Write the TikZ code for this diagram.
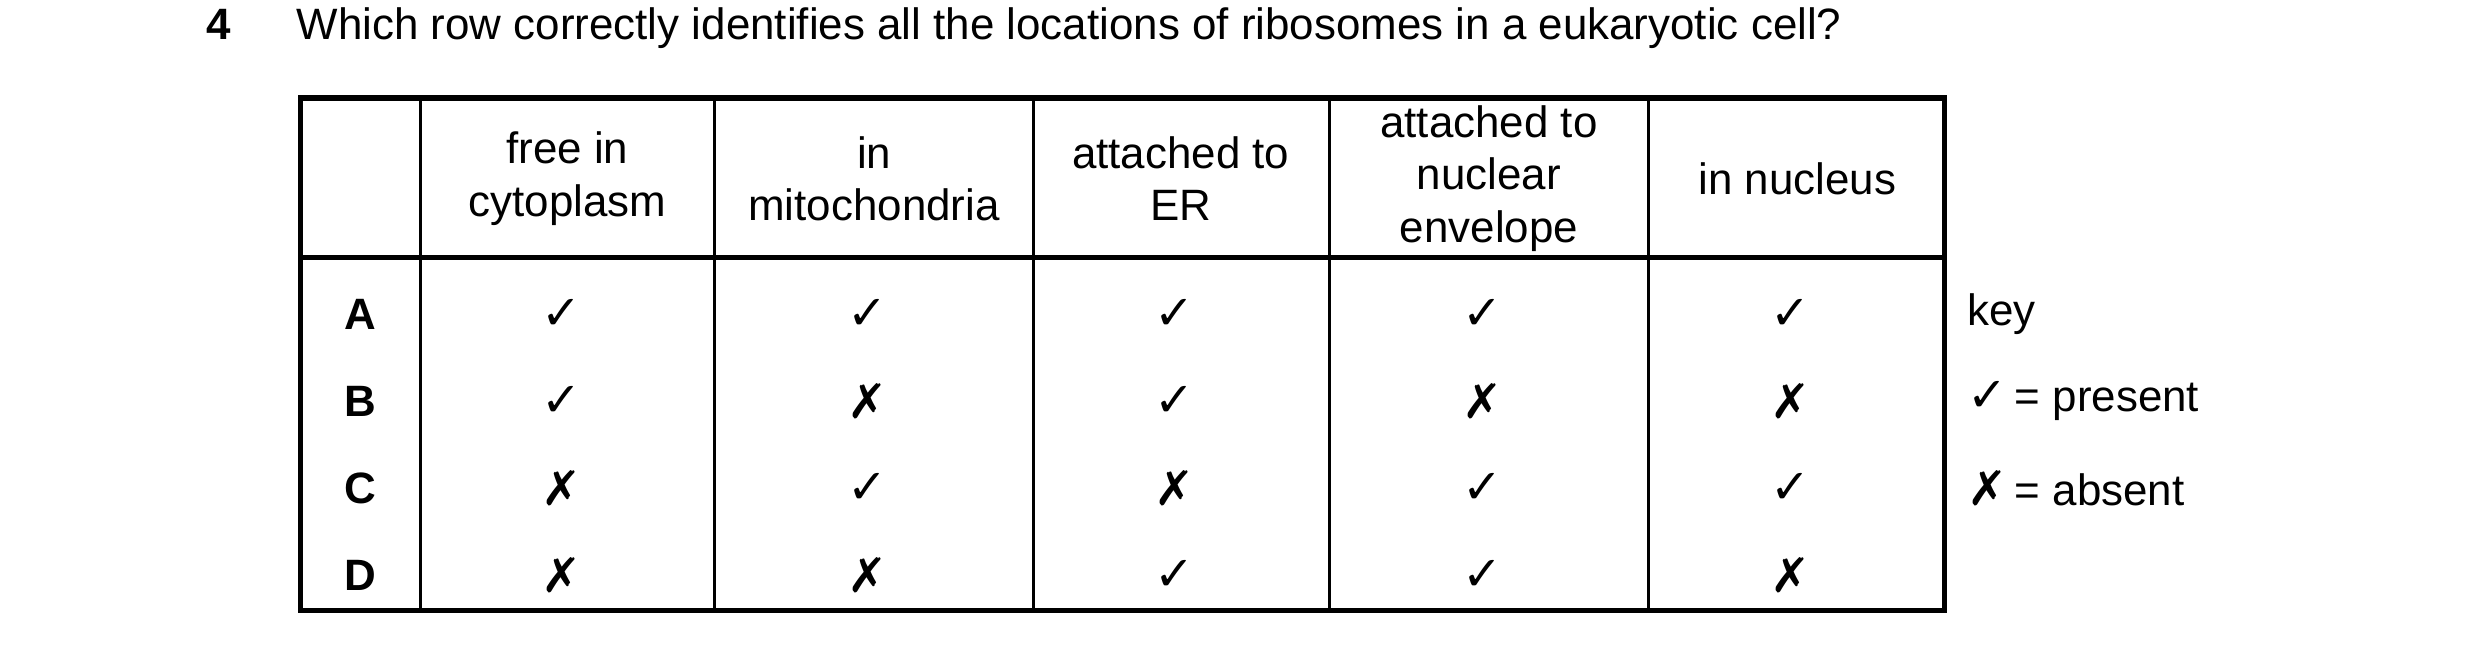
\documentclass[tikz,border=0pt]{standalone}
\usepackage{fontspec}
\setmainfont{Liberation Sans}
\newfontfamily\symfont{DejaVu Sans}
\usetikzlibrary{positioning}

\newcommand{\yes}{{\symfont ✓}}
\newcommand{\no}{{\symfont ✗}}

\begin{document}
\begin{tikzpicture}[x=0.01cm,y=-0.01cm,
    txt/.style={font=\fontsize{7.9}{9.4}\selectfont,inner sep=0pt,align=center},
    tick/.style={font=\fontsize{8.6}{9}\selectfont,inner sep=0pt}]
    \useasboundingbox (0,0) rectangle (1569,412);

    % question
    \node[txt,anchor=base east] (num) at (147,25) {\bfseries 4};
    \node[txt,anchor=base west] (q) at (187,25) {Which row correctly identifies all the locations of ribosomes in a eukaryotic cell?};

    % grid
    \draw[line width=0.5pt] (266,62) -- (266,386);
    \foreach \x in {452,654,841,1043}
        \draw[line width=0.5pt] (\x,62) -- (\x,386);
    \draw[line width=0.9pt] (190,62) rectangle (1230,386);
    \draw[line width=0.9pt] (190,163) -- (1230,163);

    % header
    \node[txt] (h_1) at (359,113) {free in\\cytoplasm};
    \node[txt] (h_2) at (553,113) {in\\mitochondria};
    \node[txt] (h_3) at (747,113) {attached to\\ER};
    \node[txt] (h_4) at (942,113) {attached to\\nuclear\\envelope};
    \node[txt] (h_5) at (1137,113) {in nucleus};

    % rows
    \foreach \r/\y/\a/\b/\c/\d/\e in {A/199/\yes/\yes/\yes/\yes/\yes,
                                       B/254/\yes/\no/\yes/\no/\no,
                                       C/309/\no/\yes/\no/\yes/\yes,
                                       D/364/\no/\no/\yes/\yes/\no} {
        \node[txt] (r_\r) at (228,\y) {\bfseries\r};
        \node[tick] (\r_1) at (355,\y) {\a};
        \node[tick] (\r_2) at (549,\y) {\b};
        \node[tick] (\r_3) at (743,\y) {\c};
        \node[tick] (\r_4) at (938,\y) {\d};
        \node[tick] (\r_5) at (1133,\y) {\e};
    }

    % key
    \node[txt,anchor=west] (key) at (1244,199) {key};
    \node[txt,anchor=west] (k_yes) at (1244,254) {{\fontsize{8.6}{9}\symfont ✓}\,= present};
    \node[txt,anchor=west] (k_no) at (1244,309) {{\fontsize{8.6}{9}\symfont ✗}\,= absent};
\end{tikzpicture}
\end{document}
